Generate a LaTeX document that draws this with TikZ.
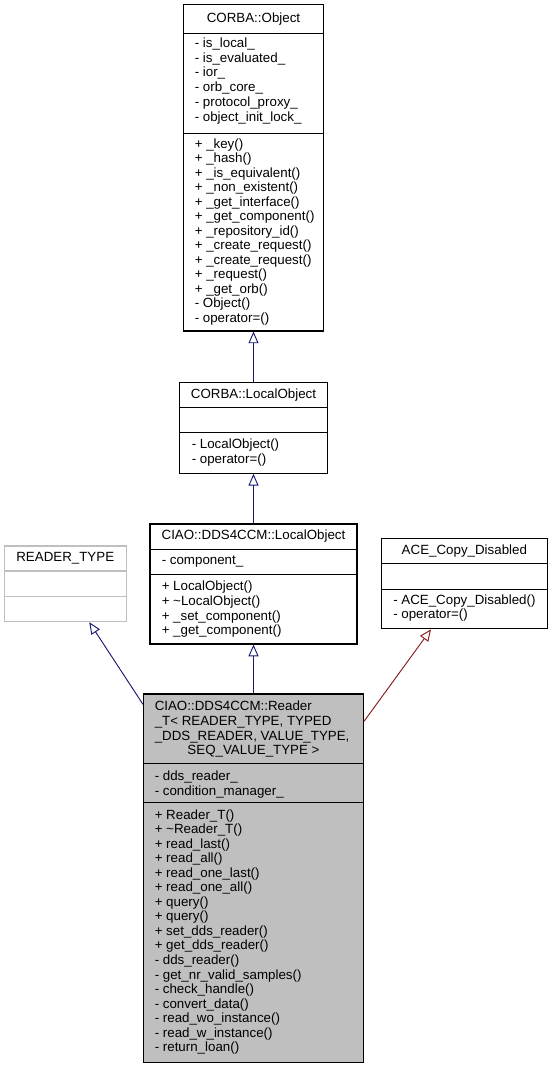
\documentclass[tikz,border=0pt]{standalone}
\usepackage{fontspec}
\setmainfont{Liberation Sans}
\usetikzlibrary{arrows.meta}
\definecolor{midblue}{HTML}{191970}
\definecolor{darkred}{HTML}{8B1A1A}
\definecolor{boxgray}{HTML}{BFBFBF}
\tikzset{
  classbox/.style={draw=black, line width=0.8pt, inner sep=0pt},
  member/.style={anchor=base west, inner sep=0pt, font=\fontsize{10}{12}\selectfont},
  classname/.style={anchor=base, inner sep=0pt, font=\fontsize{10}{12}\selectfont},
  inherit/.style={draw=midblue, line width=0.7pt, -{Triangle[open, length=8.8pt, width=7.5pt]}},
}
\begin{document}
\begin{tikzpicture}[x=0.75pt, y=-0.75pt]
\useasboundingbox (0,0) rectangle (549,1069);
% CORBA::Object
\node[classbox, minimum width=104.4pt, minimum height=244.7pt] (object) at (253.5,167.85) {};
\draw[line width=0.8pt] (183.9,33.3) -- (323.1,33.3);
\draw[line width=0.8pt] (183.9,133.3) -- (323.1,133.3);
\node[classname] (objname) at (253.5,22.3) {CORBA::Object};
\foreach \t [count=\i] in {- is\_local\_, - is\_evaluated\_, - ior\_, - orb\_core\_, - protocol\_proxy\_, - object\_init\_lock\_}
  \node[member] (objattr\i) at (194.5,{47.3+14.75*(\i-1)}) {\t};
\foreach \t [count=\i] in {+ \_key(), + \_hash(), + \_is\_equivalent(), + \_non\_existent(), + \_get\_interface(), + \_get\_component(), + \_repository\_id(), + \_create\_request(), + \_create\_request(), + \_request(), + \_get\_orb(), - Object(), - operator=()}
  \node[member] (objop\i) at (194.5,{148.5+14.5*(\i-1)}) {\t};
% CORBA::LocalObject
\node[classbox, minimum width=110.85pt, minimum height=67.95pt] (localobj) at (253.5,428) {};
\draw[line width=0.8pt] (179.6,407.7) -- (327.4,407.7);
\draw[line width=0.8pt] (179.6,432.7) -- (327.4,432.7);
\node[classname] (locname) at (253.5,398.3) {CORBA::LocalObject};
\node[member] (locop1) at (191.5,448.3) {- LocalObject()};
\node[member] (locop2) at (191.5,463) {- operator=()};
% CIAO::DDS4CCM::LocalObject
\node[classbox, minimum width=155.25pt, minimum height=90pt] (ciaolocal) at (253.5,584) {};
\draw[line width=0.8pt] (150,549.3) -- (357,549.3);
\draw[line width=0.8pt] (150,574.3) -- (357,574.3);
\node[classname] (cianame) at (253.5,539.7) {CIAO::DDS4CCM::LocalObject};
\node[member] (ciaattr1) at (161.5,564.7) {- component\_};
\foreach \t [count=\i] in {+ LocalObject(), + \textasciitilde LocalObject(), + \_set\_component(), + \_get\_component()}
  \node[member] (ciaop\i) at (161.5,{590.7+14.65*(\i-1)}) {\t};
% READER_TYPE
\node[classbox, draw=boxgray, minimum width=91.575pt, minimum height=56.775pt] (readertype) at (65.25,583.85) {};
\draw[line width=0.8pt, boxgray] (4.2,571) -- (126.3,571);
\draw[line width=0.8pt, boxgray] (4.2,596.7) -- (126.3,596.7);
\node[classname] (rtname) at (65.25,561) {READER\_TYPE};
% ACE_Copy_Disabled
\node[classbox, minimum width=124.275pt, minimum height=67.575pt] (acecopy) at (464.35,583.75) {};
\draw[line width=0.8pt] (381.5,563.3) -- (547.2,563.3);
\draw[line width=0.8pt] (381.5,589.3) -- (547.2,589.3);
\node[classname] (acename) at (464.35,554.3) {ACE\_Copy\_Disabled};
\node[member] (aceop1) at (393,604) {- ACE\_Copy\_Disabled()};
\node[member] (aceop2) at (393,618.65) {- operator=()};
% CIAO::DDS4CCM::Reader_T
\node[classbox, fill=boxgray, minimum width=164.85pt, minimum height=276.225pt] (reader) at (253.5,878.15) {};
\draw[line width=0.8pt] (143.6,763.3) -- (363.4,763.3);
\draw[line width=0.8pt] (143.6,802.7) -- (363.4,802.7);
\foreach \t [count=\i] in {{CIAO::DDS4CCM::Reader}, {\_T< READER\_TYPE, TYPED}, {\_DDS\_READER, VALUE\_TYPE,}}
  \node[member] (rdname\i) at (154.5,{710.7+14.65*(\i-1)}) {\t};
\node[classname] (rdname4) at (253.5,754.65) {SEQ\_VALUE\_TYPE >};
\node[member] (rdattr1) at (154.5,780.7) {- dds\_reader\_};
\node[member] (rdattr2) at (154.5,795.35) {- condition\_manager\_};
\foreach \t [count=\i] in {+ Reader\_T(), + \textasciitilde Reader\_T(), + read\_last(), + read\_all(), + read\_one\_last(), + read\_one\_all(), + query(), + query(), + set\_dds\_reader(), + get\_dds\_reader(), - dds\_reader(), - get\_nr\_valid\_samples(), - check\_handle(), - convert\_data(), - read\_wo\_instance(), - read\_w\_instance(), - return\_loan()}
  \node[member] (rdop\i) at (154.5,{819+14.55*(\i-1)}) {\t};
% generalisation
\draw[inherit] (localobj) -- (object);
\draw[inherit] (ciaolocal) -- (localobj);
\draw[inherit] (reader) -- (ciaolocal);
\coordinate (rleft) at ([yshift=-8.25pt]reader.north west);
\coordinate (rright) at ([yshift=-21pt]reader.north east);
\draw[inherit] (rleft) -- ([xshift=18pt]readertype.south);
\draw[inherit, draw=darkred] (rright) -- ([xshift=-25pt]acecopy.south);
\end{tikzpicture}
\end{document}
